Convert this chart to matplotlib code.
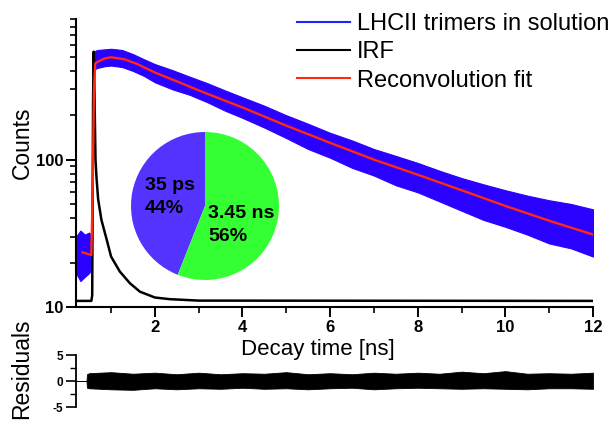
import numpy as np
import matplotlib
matplotlib.use('Agg')
import matplotlib.pyplot as plt
from matplotlib.lines import Line2D
from matplotlib.ticker import FixedLocator

plt.rcParams['font.family'] = ['Liberation Sans', 'DejaVu Sans']

# measured decay (envelope of the noisy trace, counts)
data_t = [0.2, 0.3, 0.4, 0.5, 0.55, 0.6, 0.65, 0.7, 0.85, 1.0, 1.25, 1.5, 1.75, 2.0,
          2.4, 2.8, 3.2, 3.6, 4.0, 4.5, 5.0, 5.5, 6.0, 6.5, 7.0, 7.5, 8.0, 8.5,
          9.0, 9.5, 10.0, 10.5, 11.0, 11.5, 12.0]
data_hi = [30, 33, 31, 32, 30, 530, 550, 555, 560, 565, 555, 520, 480, 445,
           405, 365, 330, 295, 265, 232, 200, 175, 152, 135, 118, 106, 95, 84,
           75, 68, 62, 57, 53, 50, 46]
data_lo = [17, 15, 16, 17, 18, 400, 415, 420, 430, 435, 425, 400, 370, 335,
           300, 275, 245, 215, 192, 165, 140, 118, 103, 88, 78, 67, 60, 52,
           45, 39, 35, 31, 27, 25, 22]

# instrument response function
irf_t = [0.2, 0.55, 0.57, 0.59, 0.605, 0.62, 0.645, 0.67, 0.705, 0.78, 0.9, 1.0,
         1.2, 1.43, 1.66, 2.0, 2.34, 3.0, 12.0]
irf_y = [11, 11, 12, 260, 540, 300, 100, 74, 54, 39, 28.7, 22,
         17.4, 14.5, 12.7, 11.6, 11.3, 11.05, 11.0]

# reconvolution fit
fit_t = [0.35, 0.55, 0.58, 0.61, 0.64, 0.7, 0.85, 1.0, 1.3, 1.6, 2.0, 2.5, 3.0,
         3.5, 4.0, 5.0, 6.0, 7.0, 8.0, 9.0, 10.0, 11.0, 12.0]
fit_y = [23.5, 22.5, 60, 300, 450, 462, 485, 495, 480, 445, 390, 340, 295,
         258, 226, 170, 130, 100, 79, 62, 48.5, 38.5, 31]

# residuals envelope
res_t = [0.2, 0.44, 0.45, 0.5, 1.0, 1.5, 2.0, 2.5, 3.0, 3.5, 4.0, 4.5, 5.0, 5.5,
         6.0, 6.5, 7.0, 7.5, 8.0, 8.5, 9.0, 9.5, 10.0, 10.5, 11.0, 11.5, 12.0]
res_hi = [0, 0, 1.3, 1.5, 1.7, 1.4, 1.6, 1.3, 1.6, 1.3, 1.5, 1.4, 1.7, 1.3,
          1.5, 1.3, 1.6, 1.4, 1.6, 1.4, 1.8, 1.5, 1.9, 1.4, 1.5, 1.4, 1.6]
res_lo = [0, 0, -1.3, -1.4, -1.6, -1.7, -1.4, -1.6, -1.4, -1.5, -1.3, -1.5, -1.4, -1.6,
          -1.4, -1.3, -1.6, -1.4, -1.3, -1.4, -1.5, -1.4, -1.5, -1.6, -1.4, -1.4, -1.5]

# lifetime components
pie_vals = [44, 56]
pie_labels = ['35 ps\n44%', '3.45 ns\n56%']

W, H = 613, 421
fig = plt.figure(figsize=(W / 100, H / 100), dpi=100)


def box(l, t, r, b):
    return [l / W, 1 - b / H, (r - l) / W, (b - t) / H]


ax = fig.add_axes(box(76, 19, 593, 307))
blue = '#2a00ff'
ax.fill_between(data_t, data_lo, data_hi, color=blue, lw=0.8, edgecolor=blue)
ax.plot(irf_t, irf_y, color='black', lw=1.8)
ax.plot(fit_t, fit_y, color='#ff2a10', lw=1.7)
ax.set_yscale('log')
ax.set_xlim(0.2, 12)
ax.set_ylim(10, 900)
for s in ['top', 'right']:
    ax.spines[s].set_visible(False)
for s in ['left', 'bottom']:
    ax.spines[s].set_linewidth(1.5)
ax.set_yticks([10, 100], ['10', '100'])
ax.yaxis.set_minor_locator(FixedLocator([20, 30, 40, 50, 60, 70, 80, 90,
                                         200, 300, 400, 500, 600, 700, 800, 900]))
ax.yaxis.set_minor_formatter(plt.NullFormatter())
ax.set_xticks([2, 4, 6, 8, 10, 12], ['2', '4', '6', '8', '10', '12'])
ax.set_xticks([1, 3, 5, 7, 9, 11], minor=True)
ax.tick_params(which='major', length=7, width=1.4, labelsize=12, pad=2)
ax.tick_params(which='minor', length=4, width=1.2)
for lab in ax.get_xticklabels() + ax.get_yticklabels():
    lab.set_fontweight('bold')

handles = [Line2D([], [], color='#2020ff', lw=1.5),
           Line2D([], [], color='black', lw=1.5),
           Line2D([], [], color='#ff2a10', lw=1.5)]
ax.legend(handles, ['LHCII trimers in solution', 'IRF', 'Reconvolution fit'],
          loc='upper left', bbox_to_anchor=(297 / W, 1 - 13 / H),
          bbox_transform=fig.transFigure, frameon=False, fontsize=17,
          handlelength=2.25, handletextpad=0.3, labelspacing=0.27,
          borderpad=0, borderaxespad=0)

fig.text(22 / W, 1 - 143 / H, 'Counts', rotation=90, ha='center', va='center', fontsize=16.5)
fig.text(318 / W, 1 - 349 / H, 'Decay time [ns]', ha='center', va='center', fontsize=16)

# residuals
axr = fig.add_axes(box(76, 355, 593, 407))
axr.fill_between(res_t, res_lo, res_hi, color='black', lw=0.6)
axr.set_xlim(0.2, 12)
axr.set_ylim(-5, 5)
for s in ['top', 'right', 'bottom']:
    axr.spines[s].set_visible(False)
axr.spines['left'].set_linewidth(1.3)
axr.set_xticks([])
axr.set_yticks([-5, 0, 5], ['-5', '0', '5'])
axr.set_yticks([-2.5, 2.5], minor=True)
axr.tick_params(which='major', length=7, width=1.2, labelsize=8.5, pad=2)
axr.tick_params(which='minor', length=4, width=1.0)
for lab in axr.get_yticklabels():
    lab.set_fontweight('bold')
fig.text(22 / W, 1 - 369 / H, 'Residuals', rotation=90, ha='center', va='center', fontsize=16.5)

# pie inset
axp = fig.add_axes(box(131, 132, 279, 280))
axp.pie(pie_vals, colors=['#5533ff', '#33ff33'], startangle=90, counterclock=True,
        wedgeprops=dict(linewidth=0))
axp.set_xlim(-1, 1)
axp.set_ylim(-1, 1)
axp.set_aspect('equal')
fig.text(145 / W, 1 - 197 / H, pie_labels[0], ha='left', va='center', fontsize=14,
         fontweight='bold', linespacing=1.45)
fig.text(208 / W, 1 - 225 / H, pie_labels[1], ha='left', va='center', fontsize=14,
         fontweight='bold', linespacing=1.45)

fig.savefig('out.png', dpi=100)
